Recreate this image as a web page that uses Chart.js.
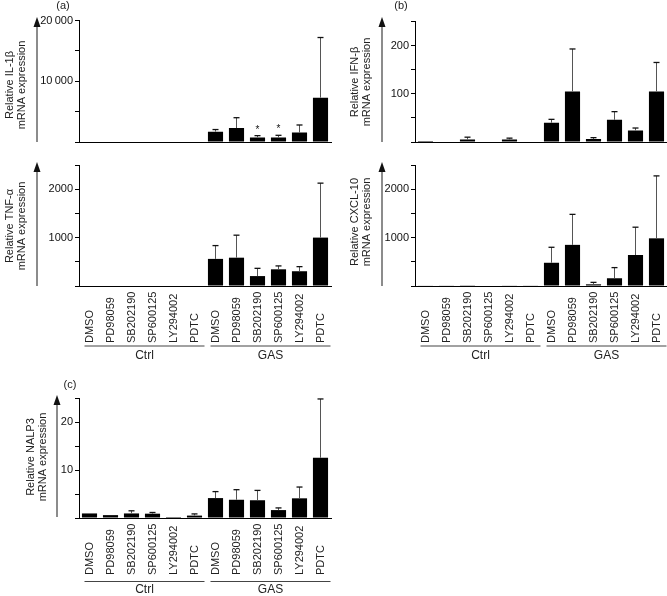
<!DOCTYPE html>
<html>
<head>
<meta charset="utf-8">
<script src="https://cdn.jsdelivr.net/npm/chart.js@4.4.1/dist/chart.umd.min.js"></script>
<style>
body { margin: 0; background: #fff; }
#wrap { position: relative; width: 667px; height: 596px; }
#wrap canvas { position: absolute; left: 0; top: 0; }
</style>
</head>
<body>
<div id="wrap"></div>
<script>
// treatments, repeated for the Ctrl and GAS groups
var treatments = ['DMSO', 'PD98059', 'SB202190', 'SP600125', 'LY294002', 'PDTC'];
var groups = ['Ctrl', 'GAS'];
var labels = treatments.concat(treatments);

// mean values and upper error (SD) per bar, Ctrl x6 then GAS x6
var il1bMean = [0, 0, 0, 0, 0, 0, 1700, 2300, 750, 750, 1550, 7300];
var il1bErr  = [0, 0, 0, 0, 0, 0, 350, 1700, 300, 350, 1250, 9900];
var ifnbMean = [2, 1, 5, 1, 5, 1, 40, 105, 6, 46, 24, 105];
var ifnbErr  = [1, 0.5, 5, 0.5, 3, 0.5, 7, 88, 3, 17, 5, 60];
var tnfMean  = [0, 0, 0, 0, 0, 0, 560, 585, 205, 345, 305, 1000];
var tnfErr   = [0, 0, 0, 0, 0, 0, 275, 465, 160, 70, 95, 1125];
var cxclMean = [12, 8, 15, 10, 8, 8, 480, 850, 35, 160, 640, 985];
var cxclErr  = [5, 4, 8, 4, 4, 3, 320, 630, 40, 220, 575, 1290];
var nalpMean = [0.95, 0.6, 0.95, 0.9, 0.2, 0.5, 4.15, 3.8, 3.7, 1.65, 4.1, 12.55];
var nalpErr  = [0.2, 0.2, 0.55, 0.25, 0.1, 0.35, 1.35, 2.1, 2.05, 0.45, 2.35, 12.25];
var il1bStars = [8, 9]; // bars marked with *

var FONT = '"Liberation Sans", Arial, Helvetica, sans-serif';
Chart.defaults.font.family = FONT;
Chart.defaults.color = '#111';

function thin(v) {
	// 20000 -> "20 000" with a thin space
	return v >= 10000 ? String(v).replace(/(\d)(?=(\d{3})$)/, '$1\u2009') : String(v);
}

function panelPlugin(p) {
	return {
		id: 'panel',
		afterDatasetsDraw: function(chart) {
			var ctx = chart.ctx, y = chart.scales.y;
			var bars = chart.getDatasetMeta(0).data;
			ctx.save();
			bars.forEach(function(bar, i) {
				var top = y.getPixelForValue(p.mean[i]);
				var hi = y.getPixelForValue(p.mean[i] + p.err[i]);
				if (top - hi < 1) return;
				ctx.strokeStyle = '#555';
				ctx.lineWidth = 1;
				ctx.beginPath();
				ctx.moveTo(bar.x, top);
				ctx.lineTo(bar.x, hi);
				ctx.stroke();
				ctx.strokeStyle = '#111';
				ctx.lineWidth = 1.3;
				ctx.beginPath();
				ctx.moveTo(bar.x - 3, hi);
				ctx.lineTo(bar.x + 3, hi);
				ctx.stroke();
			});
			(p.stars || []).forEach(function(i) {
				var hi = y.getPixelForValue(p.mean[i] + p.err[i]);
				ctx.fillStyle = '#111';
				ctx.font = '10px ' + FONT;
				ctx.textAlign = 'center';
				ctx.textBaseline = 'alphabetic';
				ctx.fillText('*', bars[i].x, hi - 3);
			});
			ctx.restore();
		},
		afterDraw: function(chart) {
			var ctx = chart.ctx;
			ctx.save();
			// arrow
			ctx.strokeStyle = '#666';
			ctx.lineWidth = 1.5;
			ctx.beginPath();
			ctx.moveTo(p.arrowX, p.arrowBottom);
			ctx.lineTo(p.arrowX, p.arrowTip + 8);
			ctx.stroke();
			ctx.fillStyle = '#111';
			ctx.beginPath();
			ctx.moveTo(p.arrowX, p.arrowTip);
			ctx.lineTo(p.arrowX - 3.5, p.arrowTip + 10);
			ctx.lineTo(p.arrowX + 3.5, p.arrowTip + 10);
			ctx.closePath();
			ctx.fill();
			// y title, two lines
			ctx.fillStyle = '#222';
			ctx.font = '11px ' + FONT;
			ctx.textAlign = 'center';
			ctx.textBaseline = 'middle';
			[[p.title, p.titleX[0]], ['mRNA expression', p.titleX[1]]].forEach(function(t) {
				ctx.save();
				ctx.translate(t[1], p.titleY);
				ctx.rotate(-Math.PI / 2);
				ctx.fillText(t[0], 0, 0);
				ctx.restore();
			});
			// panel letter
			if (p.letter) {
				ctx.textAlign = 'center';
				ctx.fillText(p.letter, p.letterX, p.letterY);
			}
			// category labels and group brackets
			if (p.labelBase) {
				var bars = chart.getDatasetMeta(0).data;
				ctx.font = '11px ' + FONT;
				ctx.textAlign = 'left';
				bars.forEach(function(bar, i) {
					ctx.save();
					ctx.translate(bar.x + 0.5, p.labelBase);
					ctx.rotate(-Math.PI / 2);
					ctx.fillText(labels[i], 0, 0);
					ctx.restore();
				});
				groups.forEach(function(g, k) {
					var x0 = bars[k * 6].x - 5, x1 = bars[k * 6 + 5].x + 10;
					ctx.strokeStyle = '#444';
					ctx.lineWidth = 1;
					ctx.beginPath();
					ctx.moveTo(x0, p.bracketY);
					ctx.lineTo(x1, p.bracketY);
					ctx.stroke();
					ctx.font = '12px ' + FONT;
					ctx.textAlign = 'center';
					ctx.fillText(g, (x0 + x1) / 2, p.groupY);
				});
			}
			ctx.restore();
		}
	};
}

function makePanel(p) {
	var canvas = document.createElement('canvas');
	canvas.width = 667;
	canvas.height = 596;
	document.getElementById('wrap').appendChild(canvas);
	new Chart(canvas, {
		type: 'bar',
		data: {
			labels: labels,
			datasets: [{
				data: p.mean,
				backgroundColor: '#000',
				barPercentage: 0.72,
				categoryPercentage: 1
			}]
		},
		options: {
			responsive: false,
			animation: false,
			events: [],
			devicePixelRatio: 1,
			layout: { padding: { left: p.L - 45, top: p.T, right: 667 - p.R, bottom: 596 - p.B } },
			plugins: { legend: { display: false }, tooltip: { enabled: false } },
			scales: {
				x: {
					grid: { display: false },
					ticks: { display: false },
					border: { color: '#000', width: 1 },
					afterFit: function(s) { s.height = 0; }
				},
				y: {
					min: 0,
					max: p.max,
					ticks: {
						stepSize: p.step,
						padding: 2,
						color: '#111',
						font: { size: 11 },
						callback: function(v) {
							if (v === 0 || Math.round(v / p.step) % 2 !== 0) return '';
							return thin(v);
						}
					},
					grid: { drawOnChartArea: false, drawTicks: true, tickLength: 4, color: '#000', tickColor: '#000' },
					border: { color: '#000', width: 1 },
					afterFit: function(s) { s.width = 45; }
				}
			}
		},
		plugins: [panelPlugin(p)]
	});
}

makePanel({ mean: il1bMean, err: il1bErr, stars: il1bStars, max: 20000, step: 5000,
	L: 79, R: 331, T: 20.5, B: 142,
	arrowX: 37, arrowTip: 17, arrowBottom: 142,
	title: 'Relative IL-1\u03b2', titleX: [10, 22], titleY: 85,
	letter: '(a)', letterX: 63, letterY: 6 });

makePanel({ mean: ifnbMean, err: ifnbErr, max: 250, step: 50,
	L: 415, R: 667, T: 21.5, B: 142,
	arrowX: 382, arrowTip: 17, arrowBottom: 142,
	title: 'Relative IFN-\u03b2', titleX: [355, 367], titleY: 82,
	letter: '(b)', letterX: 401, letterY: 6 });

makePanel({ mean: tnfMean, err: tnfErr, max: 2500, step: 500,
	L: 79, R: 331, T: 165, B: 286,
	arrowX: 37, arrowTip: 162, arrowBottom: 286,
	title: 'Relative TNF-\u03b1', titleX: [10, 22], titleY: 226,
	labelBase: 343, bracketY: 346, groupY: 356 });

makePanel({ mean: cxclMean, err: cxclErr, max: 2500, step: 500,
	L: 415, R: 667, T: 165, B: 286,
	arrowX: 382, arrowTip: 162, arrowBottom: 286,
	title: 'Relative CXCL-10', titleX: [355, 367], titleY: 222,
	labelBase: 343, bracketY: 346, groupY: 356 });

makePanel({ mean: nalpMean, err: nalpErr, max: 25, step: 5,
	L: 79, R: 331, T: 398, B: 518,
	arrowX: 57, arrowTip: 395, arrowBottom: 517,
	title: 'Relative NALP3', titleX: [31, 43], titleY: 457,
	letter: '(c)', letterX: 70, letterY: 385,
	labelBase: 575, bracketY: 581.5, groupY: 590 });
</script>
</body>
</html>
